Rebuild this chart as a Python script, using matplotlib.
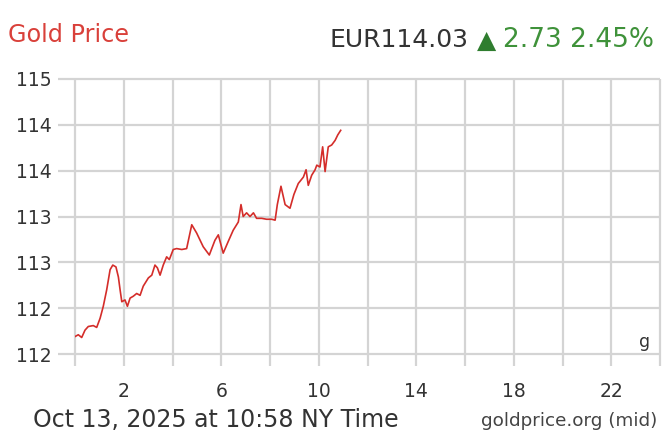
import matplotlib
matplotlib.use("Agg")
import matplotlib.pyplot as plt

# --- data (hours NY time, price EUR per gram) ---
hours = [0.00, 0.135, 0.275, 0.41, 0.545, 0.75, 0.89, 1.03, 1.16, 1.30, 1.44, 1.55,
         1.68, 1.78, 1.85, 1.92, 2.05, 2.15, 2.26, 2.39, 2.53, 2.67, 2.80, 3.01,
         3.15, 3.28, 3.38, 3.49, 3.62, 3.76, 3.87, 4.03, 4.17, 4.38, 4.58, 4.79,
         4.99, 5.26, 5.51, 5.74, 5.88, 6.08, 6.29, 6.49, 6.70, 6.81, 6.90, 7.04,
         7.18, 7.32, 7.45, 7.66, 7.86, 8.07, 8.21, 8.30, 8.45, 8.62, 8.82, 8.98,
         9.16, 9.37, 9.48, 9.57, 9.71, 9.85, 9.92, 10.05, 10.16, 10.26, 10.39, 10.53,
         10.67, 10.78, 10.90]
prices = [111.79, 111.81, 111.78, 111.86, 111.90, 111.91, 111.89, 111.99, 112.12, 112.30, 112.52, 112.57,
          112.55, 112.44, 112.30, 112.17, 112.19, 112.12, 112.21, 112.23, 112.26, 112.24, 112.34, 112.43,
          112.46, 112.57, 112.54, 112.46, 112.57, 112.66, 112.63, 112.74, 112.75, 112.74, 112.75, 113.01,
          112.92, 112.77, 112.68, 112.84, 112.90, 112.70, 112.83, 112.95, 113.04, 113.23, 113.10, 113.14,
          113.10, 113.14, 113.08, 113.08, 113.07, 113.07, 113.06, 113.23, 113.43, 113.23, 113.19, 113.34,
          113.46, 113.53, 113.61, 113.44, 113.55, 113.61, 113.66, 113.64, 113.86, 113.59, 113.86, 113.88,
          113.93, 113.99, 114.04]

y_ticks = [111.6, 112.1, 112.6, 113.1, 113.6, 114.1, 114.6]
y_labels = ["112", "112", "113", "113", "114", "114", "115"]
x_grid = list(range(0, 25, 2))
x_label_pos = [2, 6, 10, 14, 18, 22]
x_labels = ["2", "6", "10", "14", "18", "22"]

title = "Gold Price"
price_text = "EUR114.03"
arrow_text = "\u25B2"
change_text = "2.73 2.45%"
footer_left = "Oct 13, 2025 at 10:58 NY Time"
footer_right = "goldprice.org (mid)"
unit = "g"

FONT = "DejaVu Sans"
W, H = 664, 445
fig = plt.figure(figsize=(W / 100, H / 100), dpi=100)
fig.patch.set_facecolor("white")
ax = fig.add_axes([75 / W, 1 - 354 / H, (660 - 75) / W, (354 - 79) / H])
ax.set_xlim(0, 24)
ax.set_ylim(111.6, 114.6)

grid_c = "#d4d4d4"
for x in x_grid:
    ax.plot([x, x], [111.6, 114.6], color=grid_c, lw=1.6, zorder=1, clip_on=False,
            solid_capstyle="butt")
for y in y_ticks:
    ax.plot([0, 24], [y, y], color=grid_c, lw=1.6, zorder=1, clip_on=False,
            solid_capstyle="butt")

for s in ax.spines.values():
    s.set_visible(False)

ax.set_xticks(x_grid)
ax.set_xticklabels([])
ax.tick_params(axis="x", length=8.5, width=1.6, color=grid_c, direction="out")
ax.set_yticks(y_ticks)
ax.set_yticklabels(y_labels, fontsize=13.5, color="#333333", family=FONT)
ax.tick_params(axis="y", length=12, width=1.6, color=grid_c, direction="out", pad=5)

for xp, lab in zip(x_label_pos, x_labels):
    ax.text(xp, 111.6 - 0.41, lab, ha="center", va="center", fontsize=13.5,
            color="#333333", family=FONT)

ax.plot(hours, prices, color="#d42d2a", lw=1.2, zorder=3)

ax.text(23.6, 111.63, unit, ha="right", va="bottom", fontsize=12.5, color="#333333",
        family=FONT)

fig.text(8 / W, 1 - 35 / H, title, ha="left", va="center", fontsize=17.2,
         color="#d9403a", family=FONT)
fig.text(469 / W, 1 - 40 / H, price_text, ha="right", va="center", fontsize=18,
         color="#333333", family=FONT)
fig.text(477 / W, 1 - 41 / H, arrow_text, ha="left", va="center", fontsize=18,
         color="#2f7d2f", family=FONT)
fig.text(654 / W, 1 - 40 / H, change_text, ha="right", va="center", fontsize=19,
         color="#3f923a", family=FONT)

fig.text(33 / W, 1 - 420 / H, footer_left, ha="left", va="center", fontsize=17,
         color="#333333", family=FONT)
fig.text(657 / W, 1 - 421 / H, footer_right, ha="right", va="center", fontsize=13.2,
         color="#444444", family=FONT)

fig.savefig("out.png", dpi=100, facecolor="white")
